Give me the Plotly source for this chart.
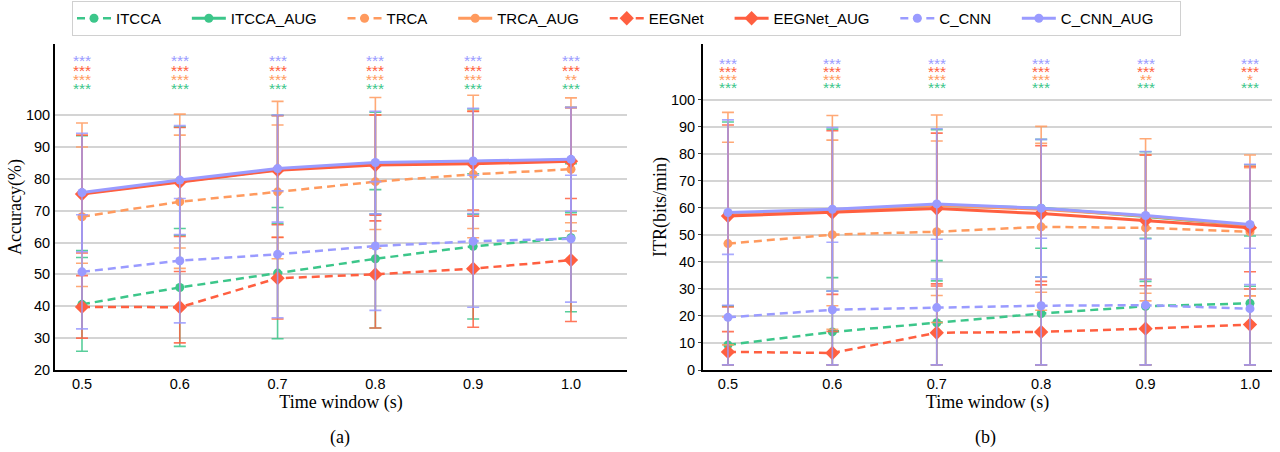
import plotly.graph_objects as go

time_window = [0.5, 0.6, 0.7, 0.8, 0.9, 1.0]
tick_labels_x = ["0.5", "0.6", "0.7", "0.8", "0.9", "1.0"]

methods = ["ITCCA", "ITCCA_AUG", "TRCA", "TRCA_AUG", "EEGNet", "EEGNet_AUG", "C_CNN", "C_CNN_AUG"]

# ---- Accuracy (%) means ----
acc_itcca = [40.6, 45.9, 50.4, 54.9, 58.8, 61.5]
acc_itcca_aug = [75.5, 79.3, 82.9, 84.9, 85.4, 85.9]
acc_trca = [68.1, 72.8, 75.9, 79.1, 81.4, 83.0]
acc_trca_aug = [75.5, 79.3, 83.0, 84.8, 85.3, 85.8]
acc_eegnet = [39.8, 39.7, 48.8, 50.0, 51.8, 54.5]
acc_eegnet_aug = [75.2, 79.0, 82.7, 84.3, 84.7, 85.5]
acc_ccnn = [50.8, 54.3, 56.3, 58.9, 60.4, 61.2]
acc_ccnn_aug = [75.7, 79.6, 83.2, 85.1, 85.6, 86.1]

# ---- Accuracy std ----
acc_itcca_sd = [14.7, 18.5, 20.6, 21.7, 22.8, 23.2]
acc_itcca_aug_sd = [18.0, 17.0, 17.0, 16.0, 16.5, 16.5]
acc_trca_sd = [21.9, 20.9, 21.0, 20.9, 19.9, 19.4]
acc_trca_aug_sd = [22.0, 21.0, 21.3, 20.7, 20.9, 19.6]
acc_eegnet_sd = [9.8, 11.2, 12.8, 16.8, 18.4, 19.3]
acc_eegnet_aug_sd = [18.5, 17.1, 17.1, 15.7, 16.4, 16.8]
acc_ccnn_sd = [17.9, 19.5, 19.9, 20.2, 20.7, 19.9]
acc_ccnn_aug_sd = [18.6, 17.1, 16.8, 16.1, 16.5, 16.3]

# ---- ITR (bits/min) means ----
itr_itcca = [9.3, 14.1, 17.5, 20.9, 23.6, 24.7]
itr_itcca_aug = [57.8, 59.2, 61.0, 59.9, 56.8, 53.5]
itr_trca = [46.8, 50.1, 51.2, 53.0, 52.6, 51.2]
itr_trca_aug = [57.5, 59.0, 61.0, 59.5, 57.0, 53.5]
itr_eegnet = [6.7, 6.3, 13.8, 14.1, 15.3, 16.8]
itr_eegnet_aug = [57.0, 58.3, 59.8, 57.9, 55.4, 52.7]
itr_ccnn = [19.5, 22.3, 23.1, 23.8, 24.0, 22.7]
itr_ccnn_aug = [58.3, 59.5, 61.5, 59.9, 57.2, 53.9]

# ---- ITR error (upper / lower) ----
itr_itcca_up = [14.4, 20.1, 23.0, 24.2, 25.2, 24.9]
itr_itcca_lo = [7.4, 12.2, 15.6, 19.0, 21.7, 22.8]
itr_itcca_aug_sd = [34.0, 30.0, 28.0, 25.5, 24.0, 22.5]
itr_trca_sd = [37.5, 35.0, 33.6, 30.9, 27.0, 23.7]
itr_trca_aug_sd = [37.9, 35.2, 33.4, 30.7, 28.6, 26.1]
itr_eegnet_up = [7.5, 8.0, 17.3, 17.4, 18.3, 19.6]
itr_eegnet_lo = [4.8, 4.4, 11.9, 12.2, 13.4, 14.9]
itr_eegnet_aug_sd = [33.7, 30.3, 27.9, 25.1, 24.2, 22.7]
itr_ccnn_up = [23.3, 25.0, 25.3, 25.0, 24.5, 22.4]
itr_ccnn_lo = [17.6, 20.4, 21.2, 21.9, 22.1, 20.8]
itr_ccnn_aug_sd = [34.3, 30.3, 27.8, 25.5, 23.7, 22.3]

# ---- significance marks (rows top->bottom: C_CNN, EEGNet, TRCA, ITCCA) ----
sig_acc_ccnn = ["***", "***", "***", "***", "***", "***"]
sig_acc_eegnet = ["***", "***", "***", "***", "***", "***"]
sig_acc_trca = ["***", "***", "***", "***", "***", "**"]
sig_acc_itcca = ["***", "***", "***", "***", "***", "***"]
sig_itr_ccnn = ["***", "***", "***", "***", "***", "***"]
sig_itr_eegnet = ["***", "***", "***", "***", "***", "***"]
sig_itr_trca = ["***", "***", "***", "***", "**", "*"]
sig_itr_itcca = ["***", "***", "***", "***", "***", "***"]

GREEN = "#3CC68A"
ORANGE = "#FF9A5E"
RED = "#FF5F40"
PURPLE = "#9A9BFF"


def rgba(hex_color, a):
    h = hex_color.lstrip("#")
    r, g, b = int(h[0:2], 16), int(h[2:4], 16), int(h[4:6], 16)
    return f"rgba({r},{g},{b},{a})"


styles = {
    "ITCCA": dict(color=GREEN, dash="8px,5px", width=2.5, symbol="circle", size=9),
    "ITCCA_AUG": dict(color=GREEN, dash="solid", width=3, symbol="circle", size=9),
    "TRCA": dict(color=ORANGE, dash="8px,5px", width=2.5, symbol="circle", size=9),
    "TRCA_AUG": dict(color=ORANGE, dash="solid", width=3, symbol="circle", size=9),
    "EEGNet": dict(color=RED, dash="8px,5px", width=2.5, symbol="diamond", size=11),
    "EEGNet_AUG": dict(color=RED, dash="solid", width=3, symbol="diamond", size=11),
    "C_CNN": dict(color=PURPLE, dash="8px,5px", width=2.5, symbol="circle", size=9),
    "C_CNN_AUG": dict(color=PURPLE, dash="solid", width=3, symbol="circle", size=9),
}

acc_data = {
    "ITCCA": (acc_itcca, acc_itcca_sd, acc_itcca_sd),
    "ITCCA_AUG": (acc_itcca_aug, acc_itcca_aug_sd, acc_itcca_aug_sd),
    "TRCA": (acc_trca, acc_trca_sd, acc_trca_sd),
    "TRCA_AUG": (acc_trca_aug, acc_trca_aug_sd, acc_trca_aug_sd),
    "EEGNet": (acc_eegnet, acc_eegnet_sd, acc_eegnet_sd),
    "EEGNet_AUG": (acc_eegnet_aug, acc_eegnet_aug_sd, acc_eegnet_aug_sd),
    "C_CNN": (acc_ccnn, acc_ccnn_sd, acc_ccnn_sd),
    "C_CNN_AUG": (acc_ccnn_aug, acc_ccnn_aug_sd, acc_ccnn_aug_sd),
}
itr_data = {
    "ITCCA": (itr_itcca, itr_itcca_up, itr_itcca_lo),
    "ITCCA_AUG": (itr_itcca_aug, itr_itcca_aug_sd, itr_itcca_aug_sd),
    "TRCA": (itr_trca, itr_trca_sd, itr_trca_sd),
    "TRCA_AUG": (itr_trca_aug, itr_trca_aug_sd, itr_trca_aug_sd),
    "EEGNet": (itr_eegnet, itr_eegnet_up, itr_eegnet_lo),
    "EEGNet_AUG": (itr_eegnet_aug, itr_eegnet_aug_sd, itr_eegnet_aug_sd),
    "C_CNN": (itr_ccnn, itr_ccnn_up, itr_ccnn_lo),
    "C_CNN_AUG": (itr_ccnn_aug, itr_ccnn_aug_sd, itr_ccnn_aug_sd),
}

NBSP = "\u00a0"
fig = go.Figure()

for panel, data, xa, ya in [(0, acc_data, "x", "y"), (1, itr_data, "x2", "y2")]:
    for m in methods:
        st = styles[m]
        y, up, lo = data[m]
        fig.add_trace(go.Scatter(
            x=time_window, y=y, name=m + NBSP * 5, mode="lines+markers",
            xaxis=xa, yaxis=ya, legendgroup=m, showlegend=(panel == 0),
            line=dict(color=st["color"], width=st["width"], dash=st["dash"]),
            marker=dict(color=st["color"], symbol=st["symbol"], size=st["size"]),
            error_y=dict(type="data", symmetric=False, array=up, arrayminus=lo,
                         color=rgba(st["color"], 0.85), thickness=1.6, width=6),
        ))

# significance annotations
sig_rows_acc = [(sig_acc_ccnn, PURPLE), (sig_acc_eegnet, RED), (sig_acc_trca, ORANGE), (sig_acc_itcca, GREEN)]
sig_rows_itr = [(sig_itr_ccnn, PURPLE), (sig_itr_eegnet, RED), (sig_itr_trca, ORANGE), (sig_itr_itcca, GREEN)]
acc_star_levels = [117.0, 114.1, 111.2, 108.3]
itr_star_levels = [113.6, 110.6, 107.6, 104.6]

annotations = []
for rows, levels, xr, yr in [(sig_rows_acc, acc_star_levels, "x", "y"), (sig_rows_itr, itr_star_levels, "x2", "y2")]:
    for (marks, col), lev in zip(rows, levels):
        for xv, t in zip(time_window, marks):
            annotations.append(dict(x=xv, y=lev, xref=xr, yref=yr, text=t, showarrow=False,
                                    font=dict(family="Liberation Sans, Arial", size=15.5, color=col),
                                    xanchor="center", yanchor="middle"))

annotations.append(dict(x=340 / 1280, y=15 / 452, xref="paper", yref="paper", text="(a)", showarrow=False,
                        font=dict(family="Liberation Serif, Times New Roman", size=18, color="black"),
                        xanchor="center", yanchor="middle"))
annotations.append(dict(x=985 / 1280, y=15 / 452, xref="paper", yref="paper", text="(b)", showarrow=False,
                        font=dict(family="Liberation Serif, Times New Roman", size=18, color="black"),
                        xanchor="center", yanchor="middle"))

tick_font = dict(family="Liberation Sans, Arial", size=14.5, color="black")
title_font = dict(family="Liberation Serif, Times New Roman", size=18, color="black")

common_x = dict(tickvals=time_window, ticktext=tick_labels_x, showgrid=False, zeroline=False,
                showline=True, linecolor="black", linewidth=2, ticks="", tickfont=tick_font,
                title=dict(text="Time window (s)", font=title_font, standoff=2), automargin=False)
common_y = dict(showgrid=True, gridcolor="#d4d4d4", gridwidth=1.5, zeroline=False,
                showline=True, linecolor="black", linewidth=2,
                tickcolor="#444", tickfont=tick_font, automargin=False)

fig.update_layout(
    width=1280, height=452,
    margin=dict(l=0, r=0, t=0, b=0),
    paper_bgcolor="white", plot_bgcolor="white",
    template="none",
    xaxis=dict(domain=[55 / 1280, 627 / 1280], range=[0.4724, 1.0573], anchor="y", **common_x),
    yaxis=dict(domain=[82 / 452, 408 / 452], range=[20, 122.3], anchor="x",
               tickvals=[20, 30, 40, 50, 60, 70, 80, 90, 100], ticks="",
               title=dict(text="Accuracy(%)", font=title_font, standoff=0), **common_y),
    xaxis2=dict(domain=[703 / 1280, 1272 / 1280], range=[0.4761, 1.0211], anchor="y2", **common_x),
    yaxis2=dict(domain=[82 / 452, 408 / 452], range=[0, 120.7], anchor="x2",
                tickvals=[0, 10, 20, 30, 40, 50, 60, 70, 80, 90, 100], ticks="outside", ticklen=3,
                title=dict(text="ITR(bits/min)", font=title_font, standoff=0), **common_y),
    legend=dict(orientation="h", x=72 / 1280, y=1 - 1 / 452, xanchor="left", yanchor="top",
                bordercolor="#d0d0d0", borderwidth=1, bgcolor="white",
                font=dict(family="Liberation Sans, Arial", size=15, color="black"),
                itemwidth=34, tracegroupgap=0),
    annotations=annotations,
    showlegend=True,
)

fig.write_html("out.html", config={"displayModeBar": False},
               post_script="document.body.style.margin='0';document.documentElement.style.overflow='hidden';")
